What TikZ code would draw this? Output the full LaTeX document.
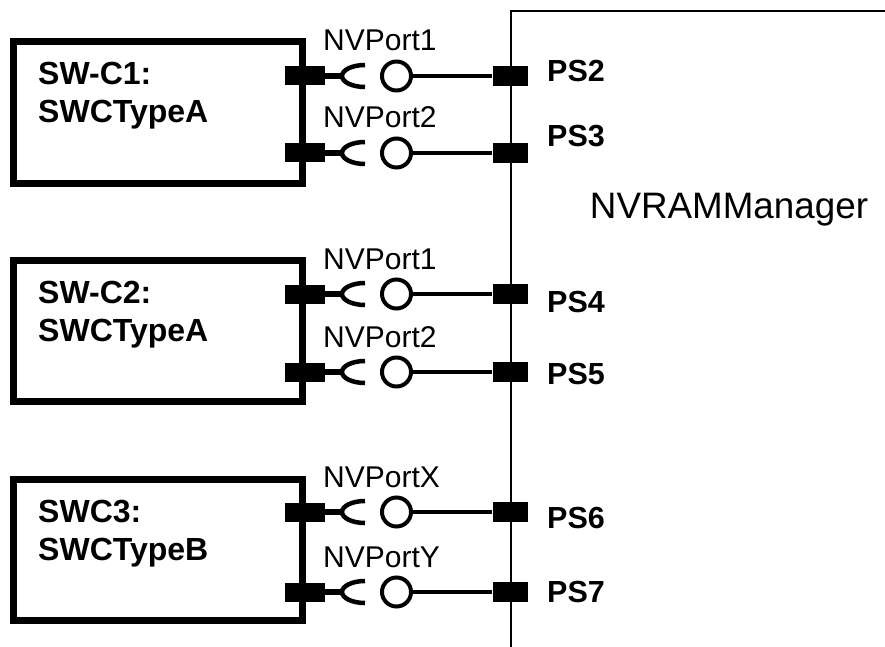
\documentclass[tikz,border=0pt]{standalone}
\usepackage{fontspec}
\setmainfont{Liberation Sans}
\usepackage{tikz}
\usetikzlibrary{positioning}

\begin{document}
\begin{tikzpicture}[x=1pt,y=-1pt,
  swc/.style={draw,line width=7pt,minimum width=289pt,minimum height=141pt,inner sep=0pt},
  swclbl/.style={align=left,inner sep=0pt,font=\fontsize{32}{37.5}\selectfont\bfseries},
  rport/.style={fill=black,minimum width=40pt,minimum height=19pt,inner sep=0pt},
  pport/.style={fill=black,minimum width=35pt,minimum height=20pt,inner sep=0pt},
  ball/.style={circle,draw,line width=4pt,minimum size=29pt,inner sep=0pt},
  portlbl/.style={inner sep=0pt,font=\fontsize{30}{36}\selectfont},
  pslbl/.style={inner sep=0pt,font=\fontsize{30.5}{36}\selectfont\bfseries}]
  \useasboundingbox (0,0) rectangle (885,647);
  % software components
  \node[swc] (swc1) at (158,112.5) {};
  \node[swc] (swc2) at (158,331) {};
  \node[swc] (swc3) at (158,550) {};
  \node[swclbl,anchor=north west] (swc1lbl) at (38,62) {SW-C1:\\SWCTypeA};
  \node[swclbl,anchor=north west] (swc2lbl) at (38,281) {SW-C2:\\SWCTypeA};
  \node[swclbl,anchor=north west] (swc3lbl) at (38,500) {SWC3:\\SWCTypeB};
  % NVRAM manager
  \draw[line width=2pt] (511,647) -- (511,11.5) -- (885,11.5);
  \node[font=\fontsize{36.8}{42}\selectfont] (nvram) at (729,210) {NVRAMManager};
  % port connections
  \foreach \r/\y/\lab/\ps/\psy in {1/76/NVPort1/PS2/82, 2/153/NVPort2/PS3/147,
      3/294/NVPort1/PS4/312, 4/372/NVPort2/PS5/384,
      5/512/NVPortX/PS6/528, 6/592/NVPortY/PS7/602} {
    \node[rport] (rp\r) at (305,\y) {};
    \coordinate (fork\r) at (342,\y);
    \node[ball] (ball\r) at (396.5,\y) {};
    \node[pport] (ps\r) at (510,\y) {};
    \draw[line width=6pt] (rp\r.east) -- (fork\r);
    \draw[line width=4.5pt] (fork\r) arc[start angle=180,end angle=90,x radius=23pt,y radius=11pt]
      (fork\r) arc[start angle=180,end angle=270,x radius=23pt,y radius=11pt];
    \draw[line width=3.5pt] (ball\r) -- (ps\r);
    \node[portlbl,anchor=base west] (lab\r) at (323,\y-25) {\lab};
    \node[pslbl,anchor=base west] (pslab\r) at (547,\psy) {\ps};
  }
\end{tikzpicture}
\end{document}
